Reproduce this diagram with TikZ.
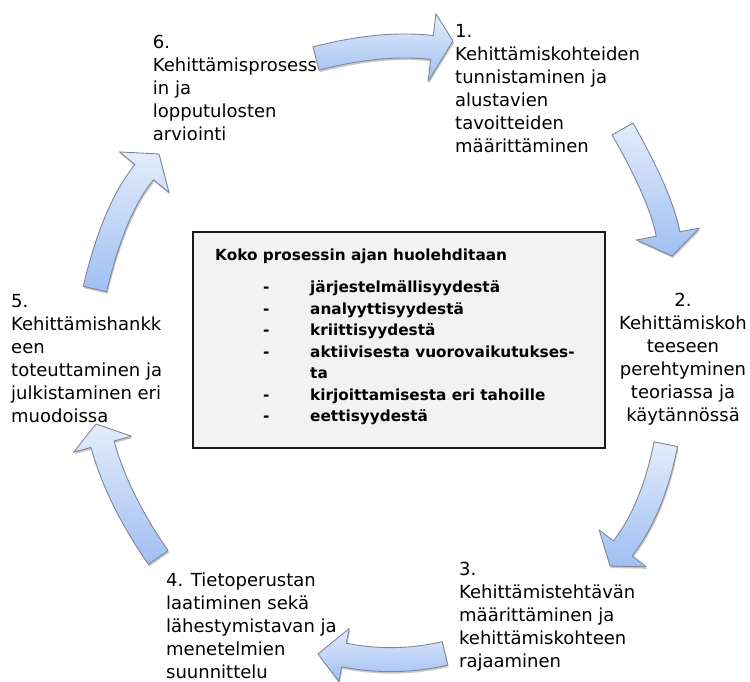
\documentclass[tikz,border=0pt]{standalone}
\usepackage{fontspec}
\setmainfont{DejaVu Sans}
\usetikzlibrary{calc,shadows}
\definecolor{arrtop}{HTML}{E3ECFB}
\definecolor{arrbot}{HTML}{A0BFF3}
\definecolor{arrline}{HTML}{7D8896}
\definecolor{boxfill}{HTML}{F2F2F2}
% curved block arrow: tail centre, control, head-base centre, tip, head half-width
\newcommand\cycarrow[5]{%
  \coordinate (t) at (#1);
  \coordinate (q) at (#2);
  \coordinate (b) at (#3);
  \coordinate (p) at (#4);
  \coordinate (t1) at ($(t)!12pt!90:(q)$);
  \coordinate (t2) at ($(t)!12pt!-90:(q)$);
  \coordinate (b1) at ($(b)!12pt!-90:(q)$);
  \coordinate (b2) at ($(b)!12pt!90:(q)$);
  \coordinate (h1) at ($(b)!#5pt!-90:(q)$);
  \coordinate (h2) at ($(b)!#5pt!90:(q)$);
  \coordinate (t1q) at ($(t1)+(q)-(t)$);
  \coordinate (b1q) at ($(b1)+(q)-(b)$);
  \coordinate (t2q) at ($(t2)+(q)-(t)$);
  \coordinate (b2q) at ($(b2)+(q)-(b)$);
  \coordinate (q1) at (intersection of t1--t1q and b1--b1q);
  \coordinate (q2) at (intersection of t2--t2q and b2--b2q);
  \coordinate (c1a) at ($(t1)!2/3!(q1)$);
  \coordinate (c1b) at ($(b1)!2/3!(q1)$);
  \coordinate (c2a) at ($(t2)!2/3!(q2)$);
  \coordinate (c2b) at ($(b2)!2/3!(q2)$);
  \draw[cycarr] (t1) .. controls (c1a) and (c1b) .. (b1) -- (h1) -- (p) -- (h2) -- (b2)
     .. controls (c2b) and (c2a) .. (t2) -- cycle;
}
\tikzset{
  cycarr/.style={draw=arrline, line width=0.9pt, line join=round,
    top color=arrtop, bottom color=arrbot,
    drop shadow={shadow xshift=1pt, shadow yshift=-2pt, opacity=0.22, fill=black}},
  lbl/.style={inner sep=0pt, font=\fontsize{18}{23}\selectfont, align=left, anchor=north west},
  boxtxt/.style={inner sep=0pt, font=\bfseries\fontsize{15.3}{21.5}\selectfont, align=left, anchor=north west}
}
\begin{document}
\begin{tikzpicture}[x=1pt,y=-1pt]
\useasboundingbox (0,0) rectangle (750,682);
\node[draw=black!90, line width=1.5pt, fill=boxfill, minimum width=412pt,
      minimum height=216pt, inner sep=0pt] (box) at (399,340) {};
\cycarrow{316,58.5}{381,41.6}{432,47.5}{453,41}{34}
\cycarrow{622.5,129}{660.9,196.4}{668,234}{672,256}{32}
\cycarrow{665.8,444.2}{652.6,510.2}{622.7,548.3}{610,566}{30}
\cycarrow{445,653.3}{395,665}{344,655}{318,654}{27}
\cycarrow{158.3,557.5}{117.6,499}{102.5,444.2}{96,424}{30}
\cycarrow{95,289}{113.7,209.4}{144.2,172.2}{159,154}{32}
\node[lbl] (s6) at (152.7,32.4) {\strut 6.\\Kehittämisprosess\\in ja\\lopputulosten\\arviointi};
\node[lbl] (s1) at (455,20.9) {\strut 1.\\Kehittämiskohteiden\\tunnistaminen ja\\alustavien\\tavoitteiden\\määrittäminen};
\node[lbl, align=center, anchor=north] (s2) at (683,289.9) {\strut 2.\\Kehittämiskoh\\teeseen\\perehtyminen\\teoriassa ja\\käytännössä};
\node[lbl] (s3) at (459,558.9) {\strut 3.\\Kehittämistehtävän\\määrittäminen ja\\kehittämiskohteen\\rajaaminen};
\node[lbl] (s4) at (166,570.6) {\strut 4. Tietoperustan\\laatiminen sekä\\lähestymistavan ja\\menetelmien\\suunnittelu};
\node[lbl] (s5) at (11,291.6) {\strut 5.\\Kehittämishankk\\een\\toteuttaminen ja\\julkistaminen eri\\muodoissa};
\node[anchor=base west, inner sep=0pt, font=\bfseries\fontsize{15.3}{21.5}\selectfont] (head) at (215,260) {Koko prosessin ajan huolehditaan};
\node[boxtxt] (dash) at (263,277.65) {\strut -\\-\\-\\-\\\mbox{}\\-\\-};
\node[boxtxt] (items) at (310,277.65) {\strut järjestelmällisyydestä\\analyyttisyydestä\\kriittisyydestä\\aktiivisesta vuorovaikutukses-\\ta\\kirjoittamisesta eri tahoille\\eettisyydestä};
\end{tikzpicture}
\end{document}
